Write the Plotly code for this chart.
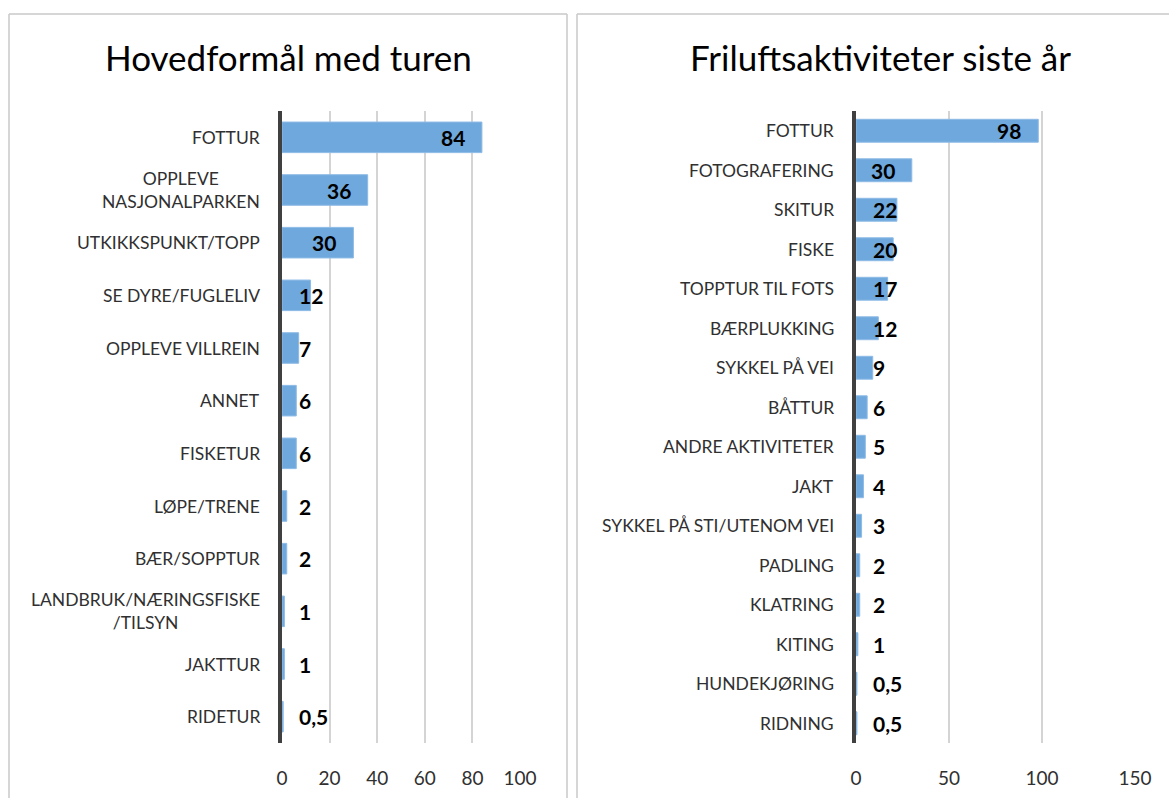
import plotly.graph_objects as go

W, H = 1169, 798

left_title = "Hovedformål med turen"
left_cats = ["FOTTUR", "OPPLEVE<br>NASJONALPARKEN", "UTKIKKSPUNKT/TOPP", "SE DYRE/FUGLELIV",
             "OPPLEVE VILLREIN", "ANNET", "FISKETUR", "LØPE/TRENE", "BÆR/SOPPTUR",
             "LANDBRUK/NÆRINGSFISKE<br>/TILSYN", "JAKTTUR", "RIDETUR"]
left_vals = [84, 36, 30, 12, 7, 6, 6, 2, 2, 1, 1, 0.5]
left_ticks = [0, 20, 40, 60, 80, 100]

right_title = "Friluftsaktiviteter siste år"
right_cats = ["FOTTUR", "FOTOGRAFERING", "SKITUR", "FISKE", "TOPPTUR TIL FOTS", "BÆRPLUKKING",
              "SYKKEL PÅ VEI", "BÅTTUR", "ANDRE AKTIVITETER", "JAKT", "SYKKEL PÅ STI/UTENOM VEI",
              "PADLING", "KLATRING", "KITING", "HUNDEKJØRING", "RIDNING"]
right_vals = [98, 30, 22, 20, 17, 12, 9, 6, 5, 4, 3, 2, 2, 1, 0.5, 0.5]
right_ticks = [0, 50, 100, 150]

FONT = "Lato, Carlito, Calibri, 'Open Sans', sans-serif"
BAR = "#6fa8dc"
BAR_EDGE = "#8dbbe6"
TXT = "#303030"

# geometry (pixels)
L_X0, L_X1 = 282, 520
R_X0, R_X1 = 856, 1135
P_TOP, P_BOT = 111, 743

fig = go.Figure()

def fmt(v):
    s = ("%g" % v)
    return s.replace(".", ",")

panels = [
    ("x", "y", left_cats, left_vals, left_ticks, L_X0, L_X1),
    ("x2", "y2", right_cats, right_vals, right_ticks, R_X0, R_X1),
]

annotations = []
LBL_SIZE = 21
PAD = 15
for xa, ya, cats, vals, ticks, x0, x1 in panels:
    fig.add_trace(go.Bar(
        x=vals, y=cats, orientation="h", xaxis=xa, yaxis=ya,
        marker=dict(color=BAR, line=dict(color=BAR_EDGE, width=1)),
        width=0.58, hoverinfo="x+y", showlegend=False,
    ))
    ppu = (x1 - x0) / (ticks[-1] - ticks[0])
    for c, v in zip(cats, vals):
        t = fmt(v)
        w = sum(0.25 if ch == "," else 0.58 for ch in t) * LBL_SIZE
        bar_px = v * ppu
        if bar_px - PAD - w >= PAD:
            ann = dict(x=v, xanchor="right", xshift=-PAD)
        else:
            ann = dict(x=0, xanchor="left", xshift=PAD)
        ann.update(y=c, xref=xa, yref=ya, text="<b>%s</b>" % t, showarrow=False,
                   yanchor="middle", font=dict(family=FONT, size=LBL_SIZE, color="#000000"))
        annotations.append(ann)
        annotations.append(dict(
            x=0, y=c, xref=xa, yref=ya, text=c, showarrow=False, xanchor="right",
            yanchor="middle", align="center", xshift=-20,
            font=dict(family=FONT, size=17.5, color=TXT)))

def xaxis_cfg(ticks, x0, x1):
    return dict(domain=[x0 / W, x1 / W], range=[ticks[0], ticks[-1]], tickvals=ticks,
                showgrid=True, gridcolor="#d4d4d4", gridwidth=1.5, zeroline=False,
                showline=False, ticks="", ticklabelstandoff=22, automargin=False,
                tickfont=dict(family=FONT, size=19, color=TXT), fixedrange=True)

def yaxis_cfg(cats, anchor):
    return dict(domain=[(H - P_BOT) / H, (H - P_TOP) / H], categoryorder="array",
                categoryarray=cats, autorange="reversed", showticklabels=False,
                showgrid=False, zeroline=False, showline=True, linecolor="#404040",
                linewidth=3.5, ticks="", anchor=anchor, fixedrange=True, automargin=False)

fig.update_layout(
    width=W, height=H, autosize=False,
    margin=dict(l=0, r=0, t=0, b=0, pad=0, autoexpand=False),
    paper_bgcolor="white", plot_bgcolor="white",
    xaxis=xaxis_cfg(left_ticks, L_X0, L_X1) | dict(anchor="y"),
    yaxis=yaxis_cfg(left_cats, "x"),
    xaxis2=xaxis_cfg(right_ticks, R_X0, R_X1) | dict(anchor="y2"),
    yaxis2=yaxis_cfg(right_cats, "x2"),
    font=dict(family=FONT, color=TXT),
    showlegend=False,
)

# titles
annotations.append(dict(x=288 / W, y=1 - 57 / H, xref="paper", yref="paper", text=left_title,
                        showarrow=False, xanchor="center", yanchor="middle",
                        font=dict(family=FONT, size=35, color="#000000")))
annotations.append(dict(x=880 / W, y=1 - 57 / H, xref="paper", yref="paper", text=right_title,
                        showarrow=False, xanchor="center", yanchor="middle",
                        font=dict(family=FONT, size=35, color="#000000")))
fig.update_layout(annotations=annotations)

# panel borders (kept inside the paper)
BORDER = dict(color="#c8c8c8", width=1.5)
top = 1 - 14 / H
for (x0, y0, x1, y1) in [(9, 0, 9, top), (567, 0, 567, top), (9, top, 567, top),
                         (577, 0, 577, top), (577, top, W, top)]:
    fig.add_shape(type="line", xref="paper", yref="paper", x0=x0 / W, x1=x1 / W,
                  y0=y0, y1=y1, line=BORDER, layer="below")

fig.write_html("out.html", config={"displayModeBar": False, "responsive": False},
               post_script="document.body.style.margin='0';")
